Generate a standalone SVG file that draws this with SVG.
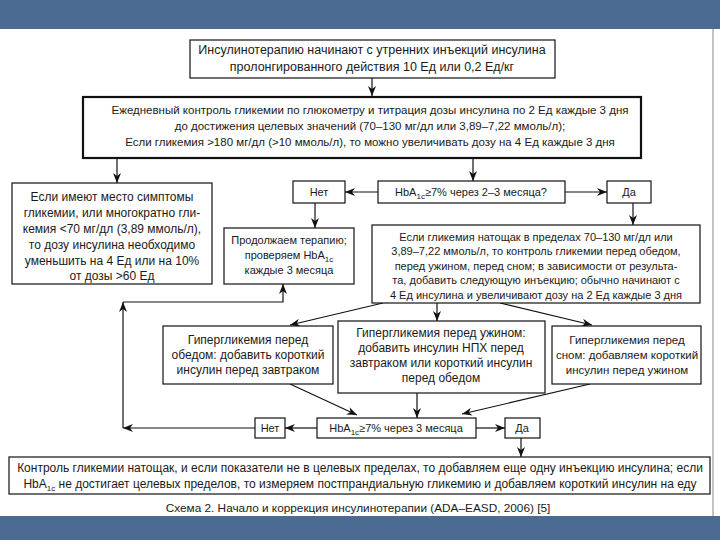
<svg xmlns="http://www.w3.org/2000/svg" width="720" height="540" viewBox="0 0 720 540">
<defs>
<style>
.bx{fill:#fff;stroke:#111;stroke-width:1.2}
.bx2{fill:#fff;stroke:#111;stroke-width:2.2}
.t{font-family:"Liberation Sans",Arial,sans-serif;font-size:11px;fill:#1a1a1a;text-anchor:middle}
.f115{font-size:11.5px}
.f12{font-size:12px}
.f125{font-size:12.5px}
.c{fill:none;stroke:#111;stroke-width:1.2}
.sub{font-size:8px}
</style>
<marker id="ah" viewBox="0 0 10 8" refX="10" refY="4" markerWidth="10" markerHeight="8" markerUnits="userSpaceOnUse" orient="auto">
<path d="M0,0 L10,4 L0,8 L3,4 z" fill="#111"/>
</marker>
</defs>
<rect x="0" y="0" width="720" height="540" fill="#fff"/>
<rect x="0" y="0" width="720" height="29" fill="#4b6b93"/>
<rect x="0" y="516" width="720" height="24" fill="#4b6b93"/>
<line x1="713" y1="29" x2="713" y2="516" stroke="#888" stroke-width="1"/>

<g id="connectors">
<line class="c" x1="372" y1="78" x2="372" y2="96" marker-end="url(#ah)"/>
<line class="c" x1="117" y1="158" x2="117" y2="183" marker-end="url(#ah)"/>
<line class="c" x1="473" y1="158" x2="473" y2="181" marker-end="url(#ah)"/>
<line class="c" x1="378" y1="192" x2="345" y2="192" marker-end="url(#ah)"/>
<line class="c" x1="565" y1="192" x2="607" y2="192" marker-end="url(#ah)"/>
<line class="c" x1="315" y1="203" x2="315" y2="228" marker-end="url(#ah)"/>
<line class="c" x1="633" y1="203" x2="633" y2="225" marker-end="url(#ah)"/>
<line class="c" x1="383" y1="303" x2="290" y2="325" marker-end="url(#ah)"/>
<line class="c" x1="437" y1="303" x2="437" y2="321" marker-end="url(#ah)"/>
<line class="c" x1="500" y1="303" x2="592" y2="325" marker-end="url(#ah)"/>
<line class="c" x1="290" y1="384" x2="357" y2="415" marker-end="url(#ah)"/>
<line class="c" x1="417" y1="393" x2="417" y2="418" marker-end="url(#ah)"/>
<line class="c" x1="590" y1="384" x2="462" y2="414" marker-end="url(#ah)"/>
<line class="c" x1="317" y1="428" x2="285" y2="428" marker-end="url(#ah)"/>
<line class="c" x1="476" y1="428" x2="505" y2="428" marker-end="url(#ah)"/>
<line class="c" x1="521" y1="438" x2="521" y2="457" marker-end="url(#ah)"/>
<line class="c" x1="255" y1="428" x2="123" y2="428" marker-end="url(#ah)"/>
<line class="c" x1="123" y1="428" x2="123" y2="302" marker-end="url(#ah)"/>
<polyline class="c" points="123,302 283,302 283,284" marker-end="url(#ah)"/>
</g>

<g id="n1">
<rect class="bx" x="190" y="40" width="365" height="38"/>
<text class="t f125" x="372" y="54">Инсулинотерапию начинают с утренних инъекций инсулина</text>
<text class="t f125" x="372" y="71">пролонгированного действия 10 Ед или 0,2 Ед/кг</text>
</g>

<g id="n2">
<rect class="bx2" x="83" y="97" width="558" height="61"/>
<text class="t f115" x="370" y="114">Ежедневный контроль гликемии по глюкометру и титрация дозы инсулина по 2 Ед каждые 3 дня</text>
<text class="t f115" x="370" y="130">до достижения целевых значений (70–130 мг/дл или 3,89–7,22 ммоль/л);</text>
<text class="t f115" x="370" y="146">Если гликемия &gt;180 мг/дл (&gt;10 ммоль/л), то можно увеличивать дозу на 4 Ед каждые 3 дня</text>
</g>

<g id="n3">
<rect class="bx" x="12" y="183" width="200" height="101"/>
<text class="t f12" x="112" y="201">Если имеют место симптомы</text>
<text class="t f12" x="112" y="217">гликемии, или многократно гли-</text>
<text class="t f12" x="112" y="233">кемия &lt;70 мг/дл (3,89 ммоль/л),</text>
<text class="t f12" x="112" y="249">то дозу инсулина необходимо</text>
<text class="t f12" x="112" y="265">уменьшить на 4 Ед или на 10%</text>
<text class="t f12" x="112" y="280">от дозы &gt;60 Ед</text>
</g>

<g id="n4">
<rect class="bx" x="293" y="181" width="52" height="22"/>
<text class="t" x="319" y="196">Нет</text>
</g>

<g id="n5">
<rect class="bx" x="378" y="181" width="187" height="22"/>
<text class="t" x="471" y="196">HbA<tspan class="sub" dy="3">1c</tspan><tspan dy="-3">≥7% через 2–3 месяца?</tspan></text>
</g>

<g id="n6">
<rect class="bx" x="607" y="181" width="44" height="22"/>
<text class="t" x="629" y="196">Да</text>
</g>

<g id="n7">
<rect class="bx" x="224" y="228" width="130" height="56"/>
<text class="t" x="289" y="244">Продолжаем терапию;</text>
<text class="t" x="289" y="259">проверяем HbA<tspan class="sub" dy="3">1c</tspan></text>
<text class="t" x="289" y="274">каждые 3 месяца</text>
</g>

<g id="n8">
<rect class="bx" x="372" y="225" width="328" height="78"/>
<text class="t" x="536" y="241">Если гликемия натощак в пределах 70–130 мг/дл или</text>
<text class="t" x="536" y="255">3,89–7,22 ммоль/л, то контроль гликемии перед обедом,</text>
<text class="t" x="536" y="270">перед ужином, перед сном; в зависимости от результа-</text>
<text class="t" x="536" y="284">та, добавить следующую инъекцию; обычно начинают с</text>
<text class="t" x="536" y="299">4 Ед инсулина и увеличивают дозу на 2 Ед каждые 3 дня</text>
</g>

<g id="n9">
<rect class="bx" x="163" y="326" width="170" height="58"/>
<text class="t f12" x="248" y="344">Гипергликемия перед</text>
<text class="t f12" x="248" y="359">обедом: добавить короткий</text>
<text class="t f12" x="248" y="374">инсулин перед завтраком</text>
</g>

<g id="n10">
<rect class="bx" x="338" y="321" width="207" height="72"/>
<text class="t f12" x="441" y="337">Гипергликемия перед ужином:</text>
<text class="t f12" x="441" y="352">добавить инсулин НПХ перед</text>
<text class="t f12" x="441" y="367">завтраком или короткий инсулин</text>
<text class="t f12" x="441" y="382">перед обедом</text>
</g>

<g id="n11">
<rect class="bx" x="552" y="326" width="149" height="58"/>
<text class="t f115" x="627" y="344">Гипергликемия перед</text>
<text class="t f115" x="627" y="359">сном: добавляем короткий</text>
<text class="t f115" x="627" y="374">инсулин перед ужином</text>
</g>

<g id="n12">
<rect class="bx" x="255" y="418" width="30" height="20"/>
<text class="t" x="270" y="432">Нет</text>
</g>

<g id="n13">
<rect class="bx" x="317" y="418" width="159" height="20"/>
<text class="t" x="396" y="432">HbA<tspan class="sub" dy="3">1c</tspan><tspan dy="-3">≥7% через 3 месяца</tspan></text>
</g>

<g id="n14">
<rect class="bx" x="505" y="418" width="35" height="20"/>
<text class="t" x="522" y="432">Да</text>
</g>

<g id="n15">
<rect class="bx" x="9" y="457" width="701" height="37"/>
<text class="t f12" x="360" y="472">Контроль гликемии натощак, и если показатели не в целевых пределах, то добавляем еще одну инъекцию инсулина;  если</text>
<text class="t f12" x="360" y="488">HbA<tspan class="sub" dy="3">1c</tspan><tspan dy="-3"> не достигает целевых пределов, то измеряем постпрандиальную гликемию и добавляем короткий инсулин на еду</tspan></text>
</g>

<text class="t" x="358" y="512" style="font-size:11.8px">Схема 2. Начало и коррекция инсулинотерапии (ADA–EASD, 2006) [5]</text>
</svg>
